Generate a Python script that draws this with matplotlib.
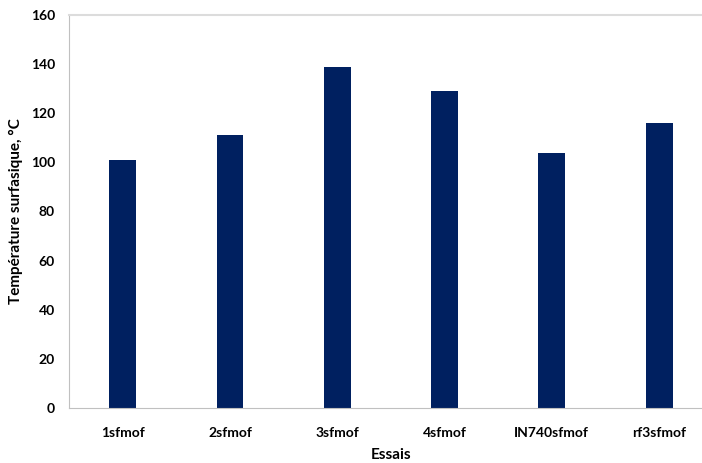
import numpy as np
import matplotlib.pyplot as plt

# donnees
essais = ["1sfmof", "2sfmof", "3sfmof", "4sfmof", "IN740sfmof", "rf3sfmof"]
temperature = [101, 111, 139, 129, 104, 116]
yticks = [0, 20, 40, 60, 80, 100, 120, 140, 160]

plt.rcParams['font.family'] = ['Lato', 'DejaVu Sans']
plt.rcParams['font.weight'] = 'bold'

fig = plt.figure(figsize=(7.02, 4.63), dpi=100)
ax = fig.add_axes([0.0983, 0.1188, 0.917, 0.8488])

x = np.arange(len(essais))
ax.bar(x, temperature, width=0.25, color='#002060')

ax.set_xlim(-0.5, len(essais) - 0.5)
ax.set_ylim(0, 160)
ax.set_yticks(yticks)
ax.set_xticks(x)
ax.set_xticklabels(essais)
ax.tick_params(axis='both', length=0, labelsize=10)
ax.tick_params(axis='x', pad=14)
ax.tick_params(axis='y', pad=10)

for s in ['left', 'bottom']:
    ax.spines[s].set_color('#c0c0c0')
ax.spines['top'].set_color('#dcdcdc')
ax.spines['top'].set_linewidth(1.5)
ax.spines['right'].set_visible(False)

ax.set_xlabel("Essais", fontsize=11, fontweight='bold', labelpad=6)
ax.set_ylabel("Température surfasique, °C", fontsize=11, fontweight='bold', labelpad=6)

fig.savefig("out.png", dpi=100)
